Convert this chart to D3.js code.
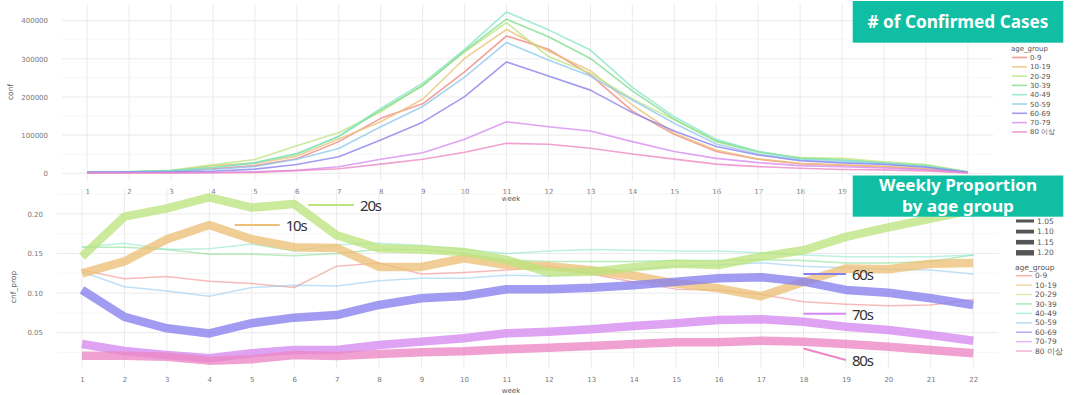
<!DOCTYPE html>
<html>
<head>
<meta charset="utf-8">
<script src="https://cdn.jsdelivr.net/npm/d3@7"></script>
<style>
  body { margin: 0; background: #fff; }
  text { font-family: "DejaVu Sans", sans-serif; }
</style>
</head>
<body>
<div id="my_dataviz"></div>
<script>

// ---- data ----
var weeks = [1, 2, 3, 4, 5, 6, 7, 8, 9, 10, 11, 12, 13, 14, 15, 16, 17, 18, 19, 20, 21, 22];
var ageGroups = ["0-9", "10-19", "20-29", "30-39", "40-49", "50-59", "60-69", "70-79", "80 이상"];
var groupColors = ["#f0857f", "#ecc077", "#bde47f", "#7fdc8a", "#86e6c9", "#8ec8f0", "#877fee", "#d689f0", "#ec86c4"];

// weekly confirmed cases
var conf_0_9   = [2000, 2500, 5000, 12000, 20000, 38000, 83000, 144000, 182000, 266000, 360000, 325000, 258000, 163000, 102000, 57000, 37000, 25000, 21000, 17000, 11000, 3000];
var conf_10_19 = [3000, 3000, 6000, 20000, 26000, 45000, 90000, 135000, 194000, 301000, 377000, 320000, 269000, 179000, 105000, 61000, 37500, 26000, 22000, 18000, 12000, 3500];
var conf_20_29 = [3500, 4000, 8000, 22000, 36000, 72000, 107000, 161000, 231000, 318000, 395000, 306000, 262000, 195000, 140000, 83000, 55000, 41000, 39000, 30000, 23000, 4000];
var conf_30_39 = [3500, 4000, 7000, 15000, 28000, 52000, 96000, 166000, 229000, 321000, 404000, 358000, 301000, 216000, 142000, 85000, 57000, 39000, 35000, 27000, 20000, 3500];
var conf_40_49 = [3500, 4000, 7000, 15000, 27000, 50000, 98000, 170000, 236000, 325000, 423000, 376000, 323000, 225000, 148000, 89000, 57000, 38000, 34000, 27000, 19000, 3500];
var conf_50_59 = [3000, 3500, 5000, 10000, 18000, 37000, 65000, 122000, 175000, 252000, 343000, 297000, 255000, 192000, 131000, 77000, 50600, 35000, 30000, 25000, 17000, 3000];
var conf_60_69 = [2500, 3000, 3000, 5500, 11000, 23000, 43500, 87000, 134000, 201000, 292000, 255000, 218000, 159000, 111000, 70000, 48000, 33000, 27000, 23000, 16000, 2500];
var conf_70_79 = [1000, 1200, 1500, 2000, 4000, 8000, 17000, 36700, 54000, 89000, 135000, 122000, 111000, 83000, 57000, 39000, 28000, 20000, 17000, 14000, 9000, 1500];
var conf_80    = [600, 800, 1000, 1500, 2500, 7000, 12000, 24000, 36700, 55000, 78500, 76000, 65500, 50600, 37000, 24000, 17500, 13000, 10000, 9000, 6000, 1000];

// weekly proportion by age group
var prop_0_9   = [0.129, 0.118, 0.121, 0.115, 0.112, 0.107, 0.134, 0.138, 0.124, 0.126, 0.129, 0.134, 0.124, 0.114, 0.105, 0.104, 0.0985, 0.089, 0.086, 0.084, 0.085, 0.092];
var prop_10_19 = [0.125, 0.140, 0.168, 0.186, 0.168, 0.158, 0.157, 0.133, 0.133, 0.144, 0.1355, 0.134, 0.129, 0.122, 0.112, 0.106, 0.096, 0.114, 0.131, 0.130, 0.137, 0.138];
var prop_20_29 = [0.146, 0.1965, 0.207, 0.221, 0.208, 0.2125, 0.173, 0.1565, 0.155, 0.152, 0.142, 0.126, 0.127, 0.1325, 0.137, 0.1355, 0.146, 0.154, 0.171, 0.183, 0.194, 0.205];
var prop_30_39 = [0.158, 0.158, 0.155, 0.149, 0.149, 0.147, 0.150, 0.155, 0.155, 0.150, 0.142, 0.140, 0.140, 0.140, 0.141, 0.141, 0.142, 0.141, 0.138, 0.138, 0.140, 0.148];
var prop_40_49 = [0.158, 0.163, 0.155, 0.156, 0.162, 0.153, 0.161, 0.163, 0.160, 0.155, 0.150, 0.153, 0.155, 0.154, 0.153, 0.153, 0.151, 0.148, 0.146, 0.146, 0.146, 0.148];
var prop_50_59 = [0.127, 0.108, 0.1026, 0.096, 0.107, 0.110, 0.109, 0.1157, 0.1187, 0.1187, 0.1224, 0.1216, 0.1258, 0.130, 0.134, 0.1355, 0.1384, 0.134, 0.132, 0.130, 0.129, 0.124];
var prop_60_69 = [0.104, 0.070, 0.0555, 0.049, 0.062, 0.069, 0.0723, 0.085, 0.0934, 0.0963, 0.1048, 0.1048, 0.1068, 0.110, 0.1144, 0.1187, 0.120, 0.1144, 0.104, 0.1005, 0.0934, 0.085];
var prop_70_79 = [0.0357, 0.0269, 0.0218, 0.0177, 0.024, 0.0282, 0.0282, 0.0345, 0.0387, 0.0429, 0.0492, 0.0513, 0.0543, 0.0585, 0.0619, 0.066, 0.0669, 0.0639, 0.0576, 0.0534, 0.0471, 0.0399];
var prop_80    = [0.021, 0.021, 0.0197, 0.0147, 0.0164, 0.0218, 0.0206, 0.0231, 0.0252, 0.0265, 0.029, 0.031, 0.0332, 0.0357, 0.0379, 0.0379, 0.0399, 0.0387, 0.0357, 0.0323, 0.0282, 0.024];

// groups drawn thick in the proportion chart
var highlighted = ["10-19", "20-29", "60-69", "70-79", "80 이상"];

var confTicks = [0, 100000, 200000, 300000, 400000];
var propTicks = [0.05, 0.10, 0.15, 0.20];
var sizeLegend = ["1.05", "1.10", "1.15", "1.20"];

// annotation labels: [text, group, week from, prop from, week to, prop to]
var notes = [
  ["20s", "20-29", 6.33, 0.2113, 7.41, 0.2113],
  ["10s", "10-19", 4.6, 0.186, 5.66, 0.186],
  ["60s", "60-69", 18, 0.124, 19, 0.124],
  ["70s", "70-79", 18, 0.074, 19, 0.074],
  ["80s", "80 이상", 18, 0.030, 19, 0.0155]
];

var confSeries = [conf_0_9, conf_10_19, conf_20_29, conf_30_39, conf_40_49, conf_50_59, conf_60_69, conf_70_79, conf_80];
var propSeries = [prop_0_9, prop_10_19, prop_20_29, prop_30_39, prop_40_49, prop_50_59, prop_60_69, prop_70_79, prop_80];

var color = d3.scaleOrdinal().domain(ageGroups).range(groupColors);

var svg = d3.select("#my_dataviz")
  .append("svg")
  .attr("width", 1075)
  .attr("height", 395);

// title box left edge, tick labels under it are hidden in the original
var boxLeft = 852.7;

// ---------- top panel: confirmed cases ----------
var xTop = d3.scaleLinear().domain([0.4, 22.6]).range([62, 993]);
var yTop = d3.scaleLinear().domain([-20500, 443500]).range([181.1, 4.1]);

var topPanel = svg.append("g");

// grid
topPanel.selectAll(".minor")
  .data([50000, 150000, 250000, 350000])
  .enter().append("line")
  .attr("x1", 62).attr("x2", 993)
  .attr("y1", d => yTop(d)).attr("y2", d => yTop(d))
  .attr("stroke", "#f4f4f4").attr("stroke-width", 0.6);
topPanel.selectAll(".hmajor")
  .data(confTicks)
  .enter().append("line")
  .attr("x1", 62).attr("x2", 993)
  .attr("y1", d => yTop(d)).attr("y2", d => yTop(d))
  .attr("stroke", "#ebebeb").attr("stroke-width", 1);
topPanel.selectAll(".vmajor")
  .data(weeks)
  .enter().append("line")
  .attr("x1", d => xTop(d)).attr("x2", d => xTop(d))
  .attr("y1", 4.1).attr("y2", 181.1)
  .attr("stroke", "#ebebeb").attr("stroke-width", 1);

// axes
topPanel.append("g")
  .attr("transform", "translate(62,0)")
  .call(d3.axisLeft(yTop).tickValues(confTicks).tickSize(0).tickPadding(14).tickFormat(d3.format("d")))
  .call(g => g.select(".domain").remove())
  .selectAll("text")
  .style("font-family", "DejaVu Sans").style("font-size", "7px").attr("fill", "#777");
topPanel.append("g")
  .attr("transform", "translate(0,181.1)")
  .call(d3.axisBottom(xTop).tickValues(weeks.filter(w => xTop(w) < boxLeft)).tickSize(0).tickPadding(7.5).tickFormat(d3.format("d")))
  .call(g => g.select(".domain").remove())
  .selectAll("text")
  .style("font-family", "DejaVu Sans").style("font-size", "7px").attr("fill", "#777");

topPanel.append("text")
  .attr("x", 511).attr("y", 201)
  .attr("text-anchor", "middle")
  .style("font-size", "7px").attr("fill", "#555")
  .text("week");
topPanel.append("text")
  .attr("transform", "translate(13,92) rotate(-90)")
  .attr("text-anchor", "middle")
  .style("font-size", "7.5px").attr("fill", "#555")
  .text("conf");

var lineTop = d3.line()
  .x((d, i) => xTop(weeks[i]))
  .y(d => yTop(d));

topPanel.selectAll(".conf")
  .data(confSeries)
  .enter().append("path")
  .attr("fill", "none")
  .attr("stroke", (d, i) => color(ageGroups[i]))
  .attr("stroke-width", 1.6)
  .attr("stroke-opacity", 0.78)
  .attr("stroke-linejoin", "round")
  .attr("d", lineTop);

// legend (top)
var legTop = topPanel.append("g");
legTop.append("text")
  .attr("x", 1011).attr("y", 51)
  .style("font-size", "7px").attr("fill", "#555")
  .text("age_group");
ageGroups.forEach(function (g, i) {
  var yy = 57.5 + i * 9.3;
  legTop.append("line")
    .attr("x1", 1012).attr("x2", 1027)
    .attr("y1", yy).attr("y2", yy)
    .attr("stroke", color(g)).attr("stroke-opacity", 0.8).attr("stroke-width", 1.6);
  legTop.append("text")
    .attr("x", 1030).attr("y", yy + 2.5)
    .style("font-size", "7px").attr("fill", "#555")
    .text(g);
});

// ---------- bottom panel: weekly proportion ----------
var xBot = d3.scaleLinear().domain([0.4, 22.6]).range([56.5, 998.7]);
var yBot = d3.scaleLinear().domain([0.0044, 0.2313]).range([368.8, 189.1]);

var bot = svg.append("g");

bot.selectAll(".minor")
  .data([0.025, 0.075, 0.125, 0.175, 0.225])
  .enter().append("line")
  .attr("x1", 56.5).attr("x2", 998.7)
  .attr("y1", d => yBot(d)).attr("y2", d => yBot(d))
  .attr("stroke", "#f4f4f4").attr("stroke-width", 0.6);
bot.selectAll(".hmajor")
  .data(propTicks)
  .enter().append("line")
  .attr("x1", 56.5).attr("x2", 998.7)
  .attr("y1", d => yBot(d)).attr("y2", d => yBot(d))
  .attr("stroke", "#ebebeb").attr("stroke-width", 1);
bot.selectAll(".vmajor")
  .data(weeks)
  .enter().append("line")
  .attr("x1", d => xBot(d)).attr("x2", d => xBot(d))
  .attr("y1", 189.1).attr("y2", 368.8)
  .attr("stroke", "#ebebeb").attr("stroke-width", 1);

bot.append("g")
  .attr("transform", "translate(56.5,0)")
  .call(d3.axisLeft(yBot).tickValues(propTicks).tickSize(0).tickPadding(13.5).tickFormat(d3.format(".2f")))
  .call(g => g.select(".domain").remove())
  .selectAll("text")
  .style("font-family", "DejaVu Sans").style("font-size", "7px").attr("fill", "#777");
bot.append("g")
  .attr("transform", "translate(0,368.8)")
  .call(d3.axisBottom(xBot).tickValues(weeks).tickSize(0).tickPadding(8).tickFormat(d3.format("d")))
  .call(g => g.select(".domain").remove())
  .selectAll("text")
  .style("font-family", "DejaVu Sans").style("font-size", "7px").attr("fill", "#777");

bot.append("text")
  .attr("x", 511).attr("y", 392.5)
  .attr("text-anchor", "middle")
  .style("font-size", "7px").attr("fill", "#555")
  .text("week");
bot.append("text")
  .attr("transform", "translate(16,287) rotate(-90)")
  .attr("text-anchor", "middle")
  .style("font-size", "7.5px").attr("fill", "#555")
  .text("cnf_prop");

var lineBot = d3.line()
  .x((d, i) => xBot(weeks[i]))
  .y(d => yBot(d));

// thin lines first, thick ones over them
var propData = propSeries.map((v, i) => ({ group: ageGroups[i], values: v, thick: highlighted.indexOf(ageGroups[i]) >= 0 }));
bot.selectAll(".prop")
  .data(propData.filter(d => !d.thick).concat(propData.filter(d => d.thick)))
  .enter().append("path")
  .attr("fill", "none")
  .attr("stroke", d => color(d.group))
  .attr("stroke-width", d => d.thick ? 8.5 : 1.5)
  .attr("stroke-opacity", d => d.thick ? 0.78 : 0.55)
  .attr("stroke-linejoin", "round")
  .attr("d", d => lineBot(d.values));

// annotations
notes.forEach(function (n) {
  bot.append("line")
    .attr("x1", xBot(n[2])).attr("y1", yBot(n[3]))
    .attr("x2", xBot(n[4])).attr("y2", yBot(n[5]))
    .attr("stroke", color(n[1])).attr("stroke-width", 2);
  bot.append("text")
    .attr("x", xBot(n[4]) + 6).attr("y", yBot(n[5]) + 6)
    .style("font-family", "Noto Sans").style("font-size", "15px")
    .style("letter-spacing", "-1.2px")
    .attr("fill", "#333")
    .text(n[0]);
});

// legend (bottom)
var legBot = bot.append("g");
sizeLegend.forEach(function (s, i) {
  var yy = 221 + i * 10.6;
  legBot.append("rect")
    .attr("x", 1016).attr("width", 18)
    .attr("y", yy - (3 + i * 0.8) / 2).attr("height", 3 + i * 0.8)
    .attr("fill", "#555");
  legBot.append("text")
    .attr("x", 1037).attr("y", yy + 2.6)
    .style("font-size", "7.5px").attr("fill", "#555")
    .text(s);
});
legBot.append("text")
  .attr("x", 1015).attr("y", 269.5)
  .style("font-size", "7.5px").attr("fill", "#555")
  .text("age_group");
ageGroups.forEach(function (g, i) {
  var yy = 275.7 + i * 9.42;
  legBot.append("line")
    .attr("x1", 1016).attr("x2", 1032)
    .attr("y1", yy).attr("y2", yy)
    .attr("stroke", color(g)).attr("stroke-opacity", 0.6).attr("stroke-width", 1.6);
  legBot.append("text")
    .attr("x", 1035).attr("y", yy + 2.6)
    .style("font-size", "7.5px").attr("fill", "#555")
    .text(g);
});

// ---------- title boxes ----------
function titleBox(y, h, size, lines) {
  svg.append("rect")
    .attr("x", boxLeft).attr("y", y)
    .attr("width", 210.6).attr("height", h)
    .attr("fill", "#10bfa3");
  lines.forEach(function (l) {
    svg.append("text")
      .attr("x", 958).attr("y", l[0])
      .attr("text-anchor", "middle")
      .attr("textLength", l[2]).attr("lengthAdjust", "spacingAndGlyphs")
      .style("font-family", "Noto Sans").style("font-weight", "bold").style("font-size", size + "px")
      .attr("fill", "#fff")
      .text(l[1]);
  });
}
titleBox(1, 41.7, 17, [[28, "# of Confirmed Cases", 181]]);
titleBox(175.5, 41.2, 15.5, [[190.8, "Weekly Proportion", 158], [212, "by age group", 112]]);

</script>
</body>
</html>
